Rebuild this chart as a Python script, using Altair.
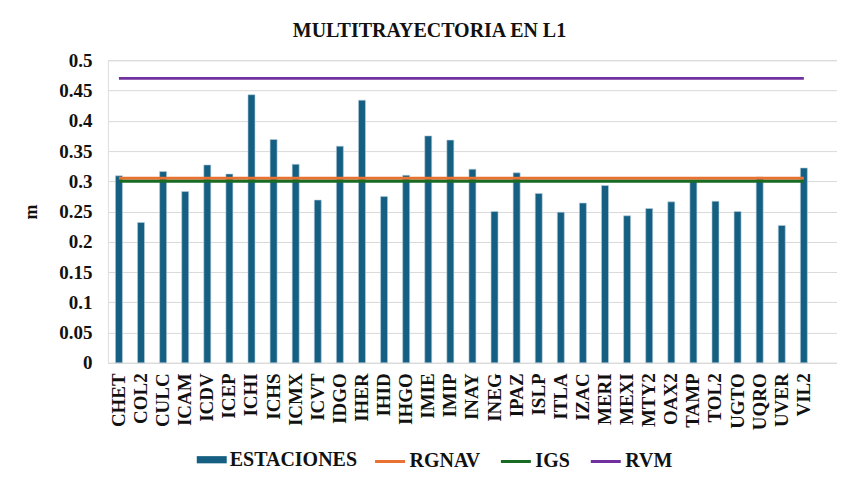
import altair as alt
import pandas as pd

stations = ["CHET", "COL2", "CULC", "ICAM", "ICDV", "ICEP", "ICHI", "ICHS", "ICMX", "ICVT",
            "IDGO", "IHER", "IHID", "IHGO", "IMIE", "IMIP", "INAY", "INEG", "IPAZ", "ISLP",
            "ITLA", "IZAC", "MERI", "MEXI", "MTY2", "OAX2", "TAMP", "TOL2", "UGTO", "UQRO",
            "UVER", "VIL2"]
values = [0.309, 0.232, 0.316, 0.283, 0.327, 0.312, 0.443, 0.369, 0.328, 0.269,
          0.358, 0.434, 0.275, 0.310, 0.375, 0.368, 0.320, 0.250, 0.314, 0.280,
          0.249, 0.264, 0.293, 0.243, 0.255, 0.266, 0.300, 0.267, 0.250, 0.307,
          0.227, 0.322]
bar_series = ["ESTACIONES"]
bar_colors = ["#156082"]
ref_names = ["RGNAV", "IGS", "RVM"]
ref_colors = ["#E97132", "#196B24", "#7030A0"]
ref_values = [0.305, 0.300, 0.470]
y_ticks = [0, 0.05, 0.1, 0.15, 0.2, 0.25, 0.3, 0.35, 0.4, 0.45, 0.5]

FONT = "Liberation Serif"
TXT = "#111111"

bars_df = pd.DataFrame({"station": stations, "value": values, "serie": bar_series[0]})
lines_df = pd.DataFrame([
    {"station": s, "value": v, "serie": n}
    for n, v in zip(ref_names, ref_values) for s in stations
])

x_domain = stations + [" "]

common_legend = dict(title=None, orient="none", direction="horizontal",
                     labelFont=FONT, labelFontSize=20, labelFontWeight="bold",
                     labelColor=TXT, labelOffset=3, labelLimit=400, symbolSize=900)

x_enc = alt.X("station:N", scale=alt.Scale(domain=x_domain, paddingInner=0, paddingOuter=0),
              sort=None,
              axis=alt.Axis(title=None, labelAngle=-90, labelFont=FONT, labelFontSize=19,
                            labelFontWeight="bold", labelColor=TXT, labelPadding=10,
                            ticks=False, domainColor="#d9d9d9", grid=False,
                            labelOverlap=False))
y_enc = alt.Y("value:Q", scale=alt.Scale(domain=[0, 0.5], nice=False),
              axis=alt.Axis(title="m", values=y_ticks, tickCount=20, format="~g",
                            labelFont=FONT, labelFontSize=19, labelFontWeight="bold",
                            labelColor=TXT, titleFont=FONT, titleFontSize=18,
                            titleFontWeight="bold", titleColor=TXT, titlePadding=18,
                            ticks=False, domain=False, gridColor="#d9d9d9",
                            labelPadding=16, labelOverlap=False))

bars = alt.Chart(bars_df).mark_bar(size=7, stroke="#b9cfdb", strokeWidth=0.6).encode(
    x=x_enc, y=y_enc,
    fill=alt.Fill("serie:N", scale=alt.Scale(domain=bar_series, range=bar_colors),
                  legend=alt.Legend(legendX=89, legendY=385,
                                    symbolType="M-1,-0.24H1V0.24H-1Z", symbolStrokeWidth=0,
                                    **common_legend)),
)

lines = alt.Chart(lines_df).mark_line(strokeWidth=3).encode(
    x=alt.X("station:N", sort=None, scale=alt.Scale(domain=x_domain)),
    y=alt.Y("value:Q"),
    stroke=alt.Stroke("serie:N", scale=alt.Scale(domain=ref_names, range=ref_colors),
                      legend=alt.Legend(legendX=266, legendY=385,
                                        symbolType="stroke", symbolStrokeWidth=3,
                                        columns=3, columnPadding=14, **common_legend)),
    detail="serie:N",
)

chart = alt.layer(bars, lines).resolve_legend(fill="independent", stroke="independent").properties(
    width=730, height=303,
    title=alt.Title("MULTITRAYECTORIA EN L1", font=FONT, fontSize=20, fontWeight="bold",
                    color=TXT, anchor="middle", dx=-43, offset=10),
    autosize=alt.AutoSizeParams(type="none"),
    padding={"left": 100, "top": 52, "right": 0, "bottom": 110},
).configure_view(stroke=None).configure(background="white")

chart.save("out.html", embed_options={"renderer": "svg", "actions": False})
